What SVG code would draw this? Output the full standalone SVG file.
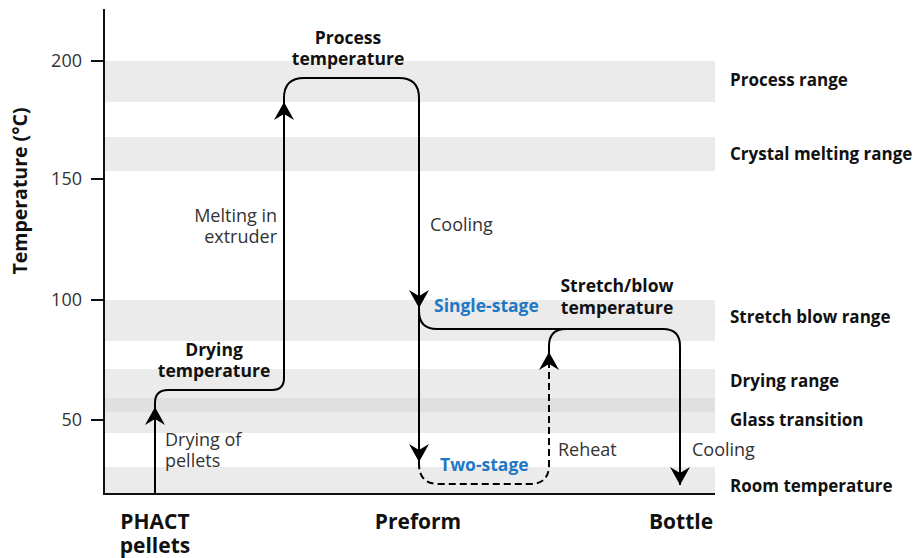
<svg xmlns="http://www.w3.org/2000/svg" width="914" height="558" viewBox="0 0 914 558">
<style>
.band{fill:#ebebeb}
.ln{fill:none;stroke:#000;stroke-width:2}
.dash{stroke-dasharray:7,4}
.ax{fill:none;stroke:#111;stroke-width:2}
text{font-family:"Open Sans","Noto Sans","Liberation Sans",sans-serif}
.reg{font-size:18px;fill:#333}
.b{font-size:17.5px;font-weight:bold;fill:#111}
.rl{font-size:17px;font-weight:bold;fill:#111}
.xl{font-size:21px;font-weight:bold;fill:#111}
.yl{font-size:19.5px;font-weight:bold;fill:#111}
.blue{font-size:17.5px;font-weight:bold;fill:#1f78c6}
.tk{font-size:18px;fill:#333;text-anchor:end}
</style>
<defs>
<marker id="ah" markerUnits="userSpaceOnUse" markerWidth="20" markerHeight="22" refX="18" refY="10" orient="auto" viewBox="0 0 20 22">
<path d="M18,10 L0,0 L6,10 L0,20 Z" fill="#000"/>
</marker>
</defs>
<g id="bands">
<rect class="band" x="105" y="61" width="610" height="41"/>
<rect class="band" x="105" y="137" width="610" height="34"/>
<rect class="band" x="105" y="300" width="610" height="41"/>
<rect class="band" x="105" y="369" width="610" height="29"/>
<rect x="105" y="398" width="610" height="14" fill="#e0e0e0"/>
<rect class="band" x="105" y="412" width="610" height="21"/>
<rect class="band" x="105" y="467" width="610" height="27"/>
</g>
<g id="axes">
<path class="ax" d="M104,9 V494 H715"/>
<path class="ax" d="M91,61 H104 M91,179 H104 M91,300 H104 M91,420 H104"/>
<text class="tk" x="82" y="67">200</text>
<text class="tk" x="82" y="185">150</text>
<text class="tk" x="82" y="306">100</text>
<text class="tk" x="82" y="426">50</text>
<text class="yl" transform="translate(27,191) rotate(-90)" text-anchor="middle">Temperature (°C)</text>
</g>
<g id="range-labels">
<text class="rl" x="730" y="86">Process range</text>
<text class="rl" x="730" y="160">Crystal melting range</text>
<text class="rl" x="730" y="323">Stretch blow range</text>
<text class="rl" x="730" y="387">Drying range</text>
<text class="rl" x="730" y="426">Glass transition</text>
<text class="rl" x="730" y="492">Room temperature</text>
</g>
<g id="x-labels">
<text class="xl" x="155" y="529" text-anchor="middle">PHACT</text>
<text class="xl" x="155" y="553" text-anchor="middle">pellets</text>
<text class="xl" x="418" y="529" text-anchor="middle">Preform</text>
<text class="xl" x="681" y="529" text-anchor="middle">Bottle</text>
</g>
<g id="connectors">
<path class="ln" d="M155,494 V407" marker-end="url(#ah)"/>
<path class="ln" d="M155,407 V403 Q155,390 168,390 H272 Q284,390 284,378 V102" marker-end="url(#ah)"/>
<path class="ln" d="M284,102 V98 Q284,78 304,78 H399 Q419,78 419,98 V308" marker-end="url(#ah)"/>
<path class="ln" d="M419,308 V311 Q419,329 437,329 H663 Q680,329 680,346 V485" marker-end="url(#ah)"/>
<path class="ln" d="M419,308 V462" marker-end="url(#ah)"/>
<path class="ln dash" d="M419,462 V464 Q419,484 439,484 H530 Q549,484 549,465 V352" marker-end="url(#ah)"/>
<path class="ln" d="M549,352 V346 Q549,329 566,329"/>
</g>
<g id="process-temp"><text class="b" text-anchor="middle"><tspan x="348" y="44">Process</tspan><tspan x="348" y="65">temperature</tspan></text></g>
<g id="melting"><text class="reg" text-anchor="end"><tspan x="277" y="222">Melting in</tspan><tspan x="277" y="243">extruder</tspan></text></g>
<g id="cooling1"><text class="reg" x="430" y="231">Cooling</text></g>
<g id="drying-temp"><text class="b" text-anchor="middle"><tspan x="214" y="356">Drying</tspan><tspan x="214" y="377">temperature</tspan></text></g>
<g id="drying-pellets"><text class="reg"><tspan x="165" y="446">Drying of</tspan><tspan x="165" y="467">pellets</tspan></text></g>
<g id="single-stage"><text class="blue" x="434" y="312">Single-stage</text></g>
<g id="stretch-temp"><text class="b" text-anchor="middle"><tspan x="617" y="292">Stretch/blow</tspan><tspan x="617" y="314">temperature</tspan></text></g>
<g id="two-stage"><text class="blue" x="440" y="471">Two-stage</text></g>
<g id="reheat"><text class="reg" x="558" y="456">Reheat</text></g>
<g id="cooling2"><text class="reg" x="692" y="456">Cooling</text></g>
</svg>
